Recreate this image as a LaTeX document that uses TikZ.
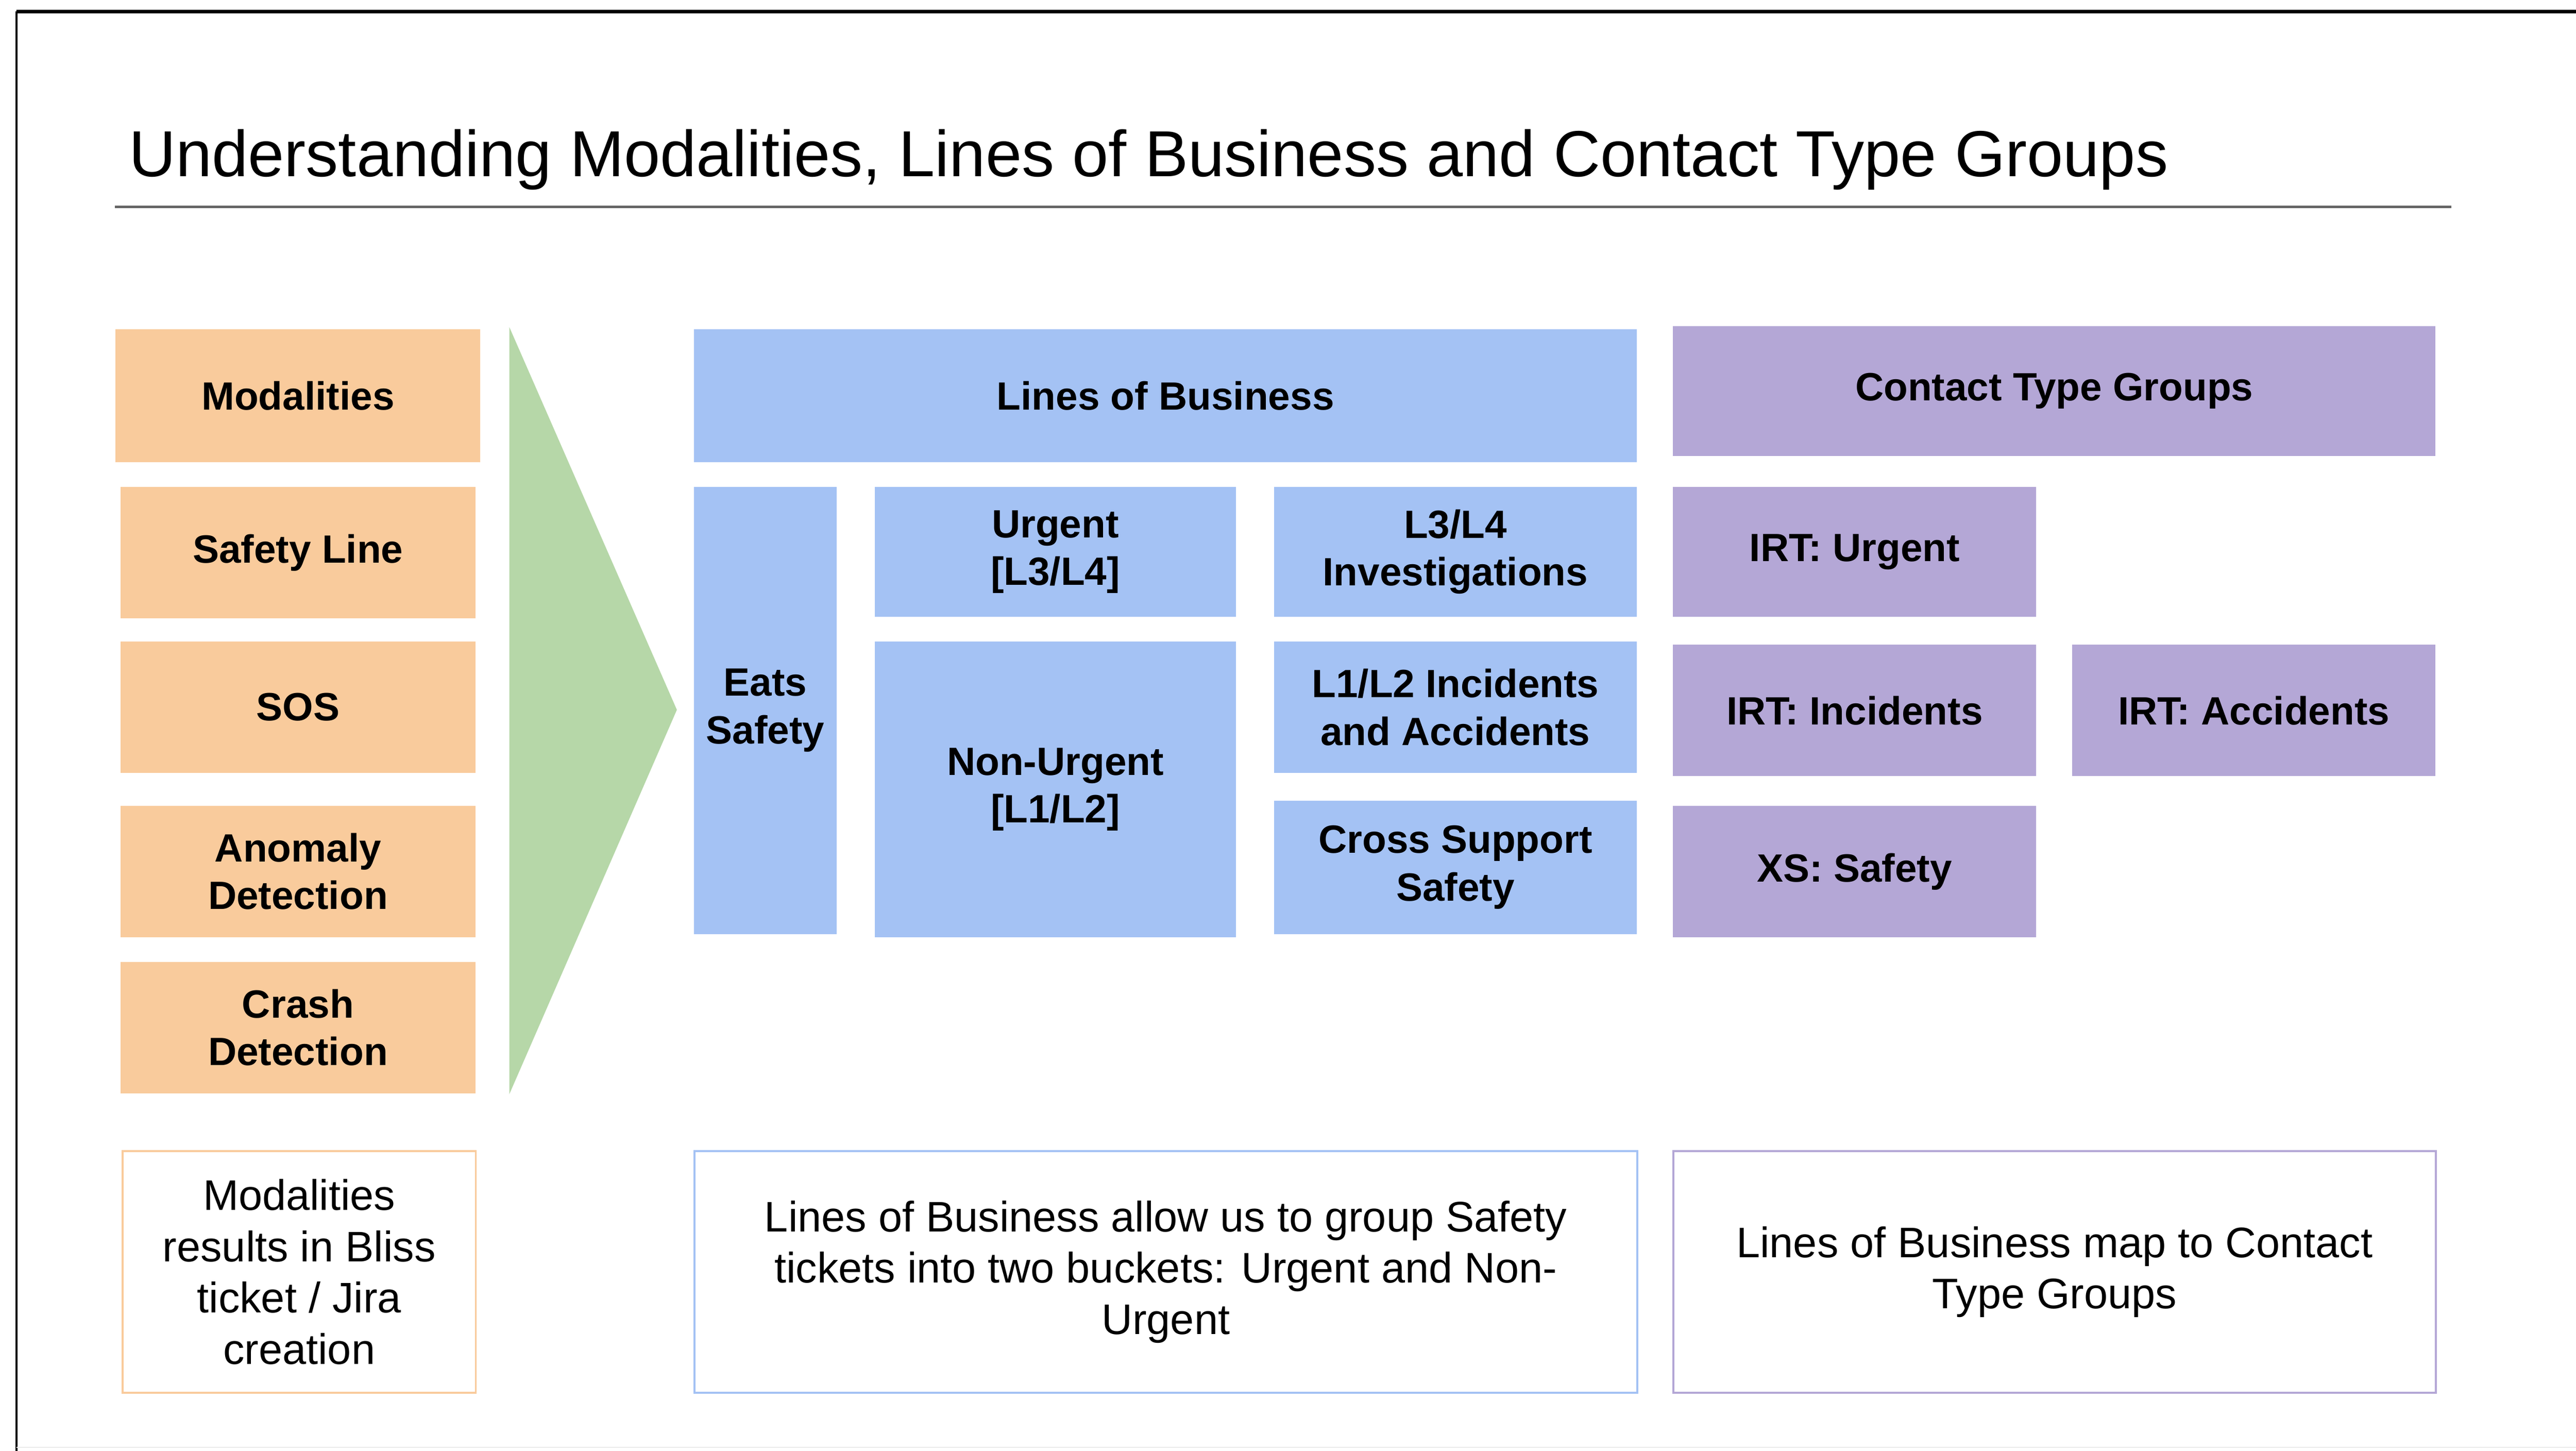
\documentclass[tikz,border=0pt]{standalone}
\usepackage{fontspec}
\setmainfont{Liberation Sans}
\usepackage{xcolor}
\usepackage{tikz}
\usetikzlibrary{
	calc,
	positioning
	}
\definecolor{orangeclair}{HTML}{F9CB9C}
\definecolor{bleuclair}{HTML}{A4C2F4}
\definecolor{violetclair}{HTML}{B4A7D6}
\definecolor{vertclair}{HTML}{B6D7A8}
\tikzstyle{boite}=[anchor=north west,inner sep=0pt,align=center,font=\fontsize{12pt}{14.5pt}\selectfont\bfseries]
\tikzstyle{boite-orange}=[boite,fill=orangeclair]
\tikzstyle{boite-bleu}=[boite,fill=bleuclair]
\tikzstyle{boite-violet}=[boite,fill=violetclair]
\tikzstyle{note}=[anchor=north west,inner sep=0pt,align=center,line width=0.6pt,fill=white,minimum height=73.5pt,font=\fontsize{13pt}{15.6pt}\selectfont]

\begin{document}
\begin{tikzpicture}[x=0.5pt,y=-0.5pt]
\useasboundingbox (0,0) rectangle (1568,883);
\draw[line width=1pt] (10,7) -- (1568,7);
\draw[line width=0.6pt] (10,7) -- (10,883);
\draw[black!8,line width=0.3pt] (10,881) -- (1568,881);

\node[anchor=base west,inner sep=0pt,font=\fontsize{19.8pt}{23pt}\selectfont] (titre) at (78,107.5) {Understanding Modalities, Lines of Business and Contact Type Groups};
\draw[black!60,line width=0.75pt] (70,126) -- (1492,126);

\node[boite-orange,minimum width=111pt,minimum height=40.5pt] (modal) at (70,200) {Modalities};
\node[boite-orange,minimum width=108pt,minimum height=40pt] (ligne) at (73,296) {Safety Line};
\node[boite-orange,minimum width=108pt,minimum height=40pt] (sos) at (73,390) {SOS};
\node[boite-orange,minimum width=108pt,minimum height=40pt] (anomalie) at (73,490) {Anomaly\\Detection};
\node[boite-orange,minimum width=108pt,minimum height=40pt] (crash) at (73,585) {Crash\\Detection};

\fill[vertclair] (310,199) -- (412,432) -- (310,666) -- cycle;

\node[boite-bleu,minimum width=287pt,minimum height=40.5pt] (lob) at (422,200) {Lines of Business};
\node[boite-bleu,minimum width=43.5pt,minimum height=136pt] (eats) at (422,296) {Eats\\Safety};
\node[boite-bleu,minimum width=110pt,minimum height=39.5pt] (urgent) at (532,296) {Urgent\\{[L3/L4]}};
\node[boite-bleu,minimum width=110pt,minimum height=90pt] (nonurgent) at (532,390) {Non-Urgent\\{[L1/L2]}};
\node[boite-bleu,minimum width=110.5pt,minimum height=39.5pt] (enquetes) at (775,296) {L3/L4\\Investigations};
\node[boite-bleu,minimum width=110.5pt,minimum height=40pt] (incidents) at (775,390) {L1/L2 Incidents\\and Accidents};
\node[boite-bleu,minimum width=110.5pt,minimum height=40.5pt] (cross) at (775,487) {Cross Support\\Safety};

\node[boite-violet,minimum width=232pt,minimum height=39.5pt] (ctg) at (1018,198) {Contact Type Groups};
\node[boite-violet,minimum width=110.5pt,minimum height=39.5pt] (irtu) at (1018,296) {IRT: Urgent};
\node[boite-violet,minimum width=110.5pt,minimum height=40pt] (irti) at (1018,392) {IRT: Incidents};
\node[boite-violet,minimum width=110.5pt,minimum height=40pt] (irta) at (1261,392) {IRT: Accidents};
\node[boite-violet,minimum width=110.5pt,minimum height=40pt] (xs) at (1018,490) {XS: Safety};

\node[note,draw=orangeclair,minimum width=107.5pt] (note-modal) at (74,700) {Modalities\\results in Bliss\\ticket / Jira\\creation};
\node[note,draw=bleuclair,minimum width=287pt] (note-lob) at (422,700) {Lines of Business allow us to group Safety\\tickets into two buckets: Urgent and Non-\\Urgent};
\node[note,draw=violetclair,minimum width=232pt] (note-ctg) at (1018,700) {Lines of Business map to Contact\\Type Groups};
\end{tikzpicture}
\end{document}
